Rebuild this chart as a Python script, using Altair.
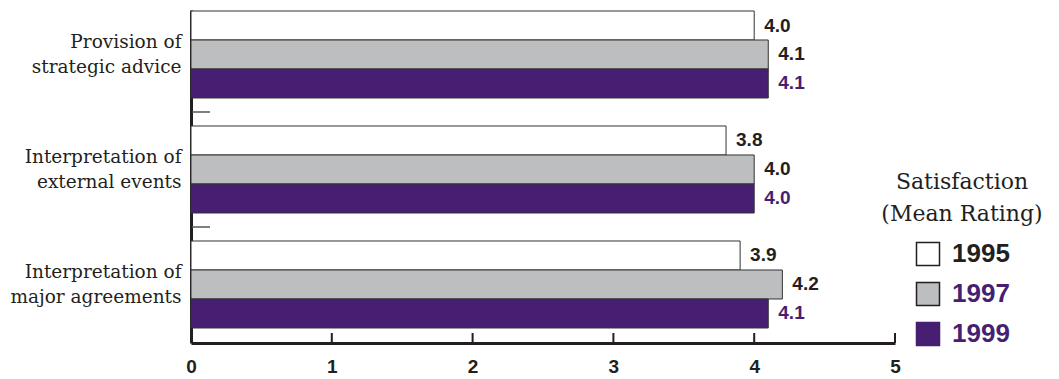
import altair as alt
import pandas as pd

categories = ["Provision of\nstrategic advice", "Interpretation of\nexternal events", "Interpretation of\nmajor agreements"]
years = ["1995", "1997", "1999"]
v1995 = [4.0, 3.8, 3.9]
v1997 = [4.1, 4.0, 4.2]
v1999 = [4.1, 4.0, 4.1]
x_ticks = [0, 1, 2, 3, 4, 5]

DARK = "#231f20"
PURPLE = "#461f73"
GRAY = "#bcbec0"

rows = []
for i, c in enumerate(categories):
    for y, vals in zip(years, [v1995, v1997, v1999]):
        rows.append({"cat": c, "year": y, "value": vals[i]})
df = pd.DataFrame(rows)

W, H = 704, 333

yscale = alt.Scale(domain=categories, paddingInner=28 / 115, paddingOuter=0.0696, align=0.0625)
xscale = alt.Scale(domain=[0, 5], nice=False, zero=True)

base = alt.Chart(df)

bars = base.mark_bar(stroke="#333333", strokeWidth=1).encode(
    x=alt.X("value:Q", scale=xscale,
            axis=alt.Axis(values=x_ticks, format="d", title=None, grid=False, ticks=False,
                          labelFlush=False,
                          domainColor=DARK, domainWidth=3, labelFont="Liberation Sans",
                          labelFontWeight="bold", labelFontSize=19, labelColor=DARK,
                          labelPadding=14)),
    y=alt.Y("cat:N", scale=yscale, sort=categories,
            axis=alt.Axis(title=None, ticks=False, domainColor=DARK, domainWidth=3,
                          labelFont="DejaVu Serif", labelFontSize=18.5, labelColor=DARK,
                          labelPadding=10, labelLineHeight=25, labelOffset=-12,
                          labelExpr="split(datum.label, '\\n')")),
    yOffset=alt.YOffset("year:N", sort=years, scale=alt.Scale(paddingInner=0, paddingOuter=0)),
    color=alt.Color("year:N", sort=years,
                    scale=alt.Scale(domain=years, range=["#ffffff", GRAY, PURPLE]),
                    legend=alt.Legend(
                        title=["Satisfaction", "(Mean Rating)"],
                        orient="none", legendX=690, legendY=162,
                        titleFont="DejaVu Serif", titleFontSize=22, titleFontWeight="normal",
                        titleColor=DARK, titleLineHeight=32, titleAnchor="middle",
                        titleAlign="center", titlePadding=15, padding=0,
                        symbolType="square", symbolSize=529,
                        symbolStrokeColor={"expr": "datum.label == '1999' ? '#461f73' : '#231f20'"},
                        symbolStrokeWidth=1.5, symbolOffset=0,
                        labelFont="Liberation Sans", labelFontWeight="bold", labelFontSize=26,
                        labelColor={"expr": "datum.label == '1995' ? '#231f20' : '#461f73'"},
                        labelOffset=11, rowPadding=10)),
)

labels = base.mark_text(align="left", baseline="middle", dx=10,
                        font="Liberation Sans", fontWeight="bold", fontSize=19).encode(
    x=alt.X("value:Q", scale=xscale),
    y=alt.Y("cat:N", scale=yscale, sort=categories),
    yOffset=alt.YOffset("year:N", sort=years),
    text=alt.Text("value:Q", format=".1f"),
    color=alt.condition(alt.datum.year == "1999", alt.value(PURPLE), alt.value(DARK)),
)

xtick_df = pd.DataFrame({"t": x_ticks[1:]})
xticks = alt.Chart(xtick_df).mark_rule(color=DARK, strokeWidth=2).encode(
    x=alt.X("t:Q", scale=xscale),
    y=alt.value(H),
    y2=alt.value(H - 10),
)

ytick_df = pd.DataFrame({"cat": categories[1:]})
yticks = alt.Chart(ytick_df).mark_rule(color="#555555", strokeWidth=1.5, yOffset=-14).encode(
    y=alt.Y("cat:N", scale=yscale, sort=categories, bandPosition=0),
    x=alt.value(1),
    x2=alt.value(19),
)

chart = alt.layer(bars, labels, xticks, yticks).properties(
    width=W, height=H,
    background="white",
    autosize=alt.AutoSizeParams(type="none"),
    padding={"left": 191, "top": 10, "right": 1059 - 191 - W, "bottom": 36},
).configure_view(stroke=None)

chart.save("out.html", embed_options={"renderer": "svg", "actions": False})
